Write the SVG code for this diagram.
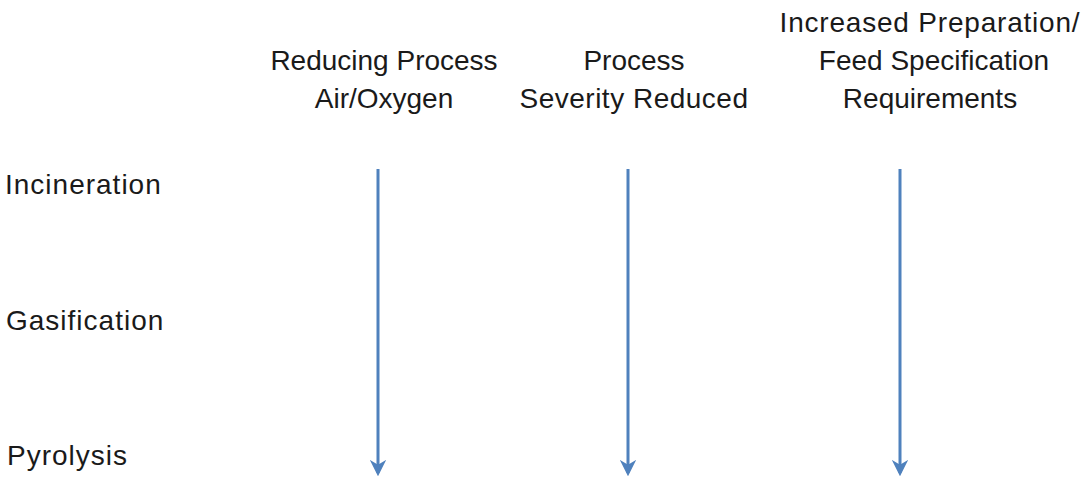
<svg xmlns="http://www.w3.org/2000/svg" width="1085" height="477" viewBox="0 0 1085 477">
  <defs>
    <marker id="arrowhead" viewBox="0 0 10 10" refX="8" refY="5" markerWidth="5.5" markerHeight="5.5" markerUnits="strokeWidth" orient="auto">
      <path d="M0,0 L10,5 L0,10 L3,5 Z" fill="#4f81bd"/>
    </marker>
  </defs>
  <style>
    text { font-family: "Liberation Sans", Arial, sans-serif; font-size: 28px; fill: #1a1a1a; }
    .head { text-anchor: middle; }
    .row { letter-spacing: 1px; }
    .flow { stroke: #4f81bd; stroke-width: 3; fill: none; marker-end: url(#arrowhead); }
  </style>
  <rect width="1085" height="477" fill="#ffffff"/>

  <!-- column headings -->
  <g id="col-reducing">
    <text class="head" x="384" y="70">Reducing Process</text>
    <text class="head" x="384" y="108">Air/Oxygen</text>
  </g>
  <g id="col-severity">
    <text class="head" x="634" y="70">Process</text>
    <text class="head" x="634" y="108" letter-spacing="0.5">Severity Reduced</text>
  </g>
  <g id="col-preparation">
    <text class="head" x="930" y="32" letter-spacing="0.8">Increased Preparation/</text>
    <text class="head" x="934" y="70">Feed Specification</text>
    <text class="head" x="930" y="108">Requirements</text>
  </g>

  <!-- row labels -->
  <g id="row-incineration">
    <text class="row" x="5" y="194">Incineration</text>
  </g>
  <g id="row-gasification">
    <text class="row" x="6" y="330">Gasification</text>
  </g>
  <g id="row-pyrolysis">
    <text class="row" x="7" y="465">Pyrolysis</text>
  </g>

  <!-- downward trend arrows -->
  <g id="connectors">
    <line class="flow" x1="378" y1="169" x2="378" y2="473"/>
    <line class="flow" x1="628" y1="169" x2="628" y2="473"/>
    <line class="flow" x1="900" y1="169" x2="900" y2="473"/>
  </g>
</svg>
